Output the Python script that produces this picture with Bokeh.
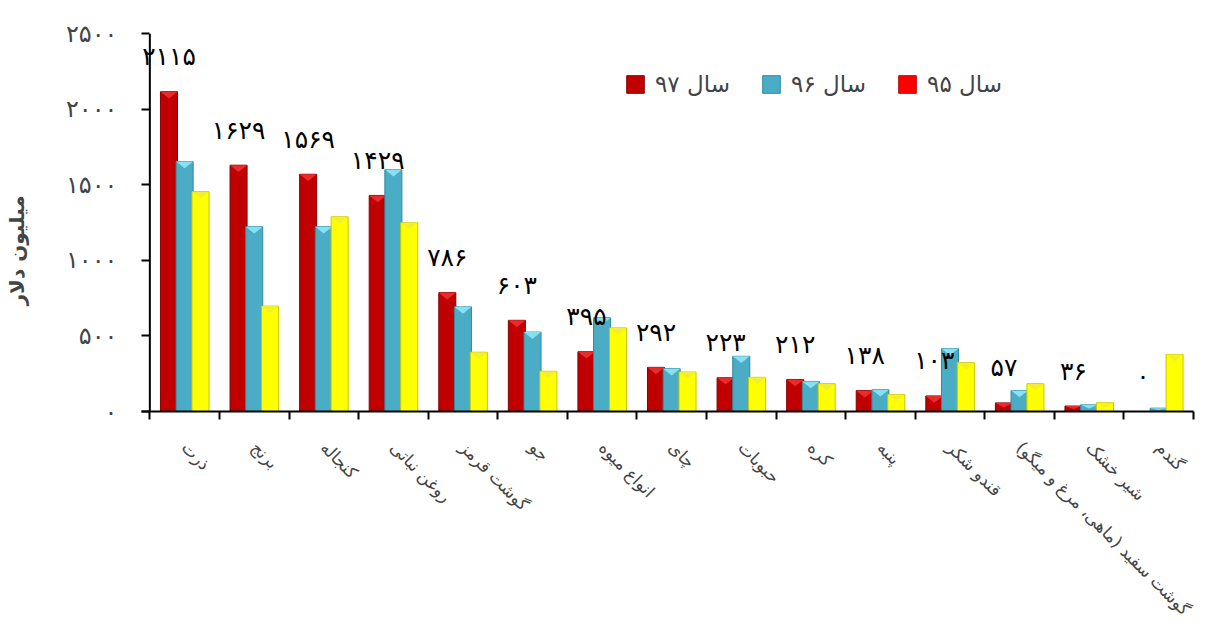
import math
from bokeh.plotting import figure
from bokeh.models import (Range1d, FixedTicker, LinearAxis, Legend, LegendItem, Label, Span)
from bokeh.embed import file_html
from bokeh.resources import INLINE

# ---- data ----
categories = ["ذرت", "برنج", "کنجاله", "روغن نباتی", "گوشت قرمز", "جو", "انواع میوه",
              "چای", "حبوبات", "کره", "پنبه", "قندو شکر",
              "گوشت سفید (ماهی، مرغ و میگو)", "شیر خشک", "گندم"]
series_names = ["سال ۹۷", "سال ۹۶", "سال ۹۵"]
v97 = [2115, 1629, 1569, 1429, 786, 603, 395, 292, 223, 212, 138, 103, 57, 36, 0]
v96 = [1653, 1222, 1222, 1600, 692, 525, 620, 283, 365, 199, 144, 416, 139, 44, 22]
v95 = [1454, 697, 1288, 1248, 392, 266, 553, 261, 226, 184, 113, 323, 184, 58, 378]
y_ticks = [0, 500, 1000, 1500, 2000, 2500]
y_title = "میلیون دلار"

FA = str.maketrans("0123456789", "۰۱۲۳۴۵۶۷۸۹")
def fa(n):
    return str(n).translate(FA)

FONT = "DejaVu Sans"
n = len(categories)
W = 0.245
offs = [-0.225, 0.0, 0.228]
fills = ["#C00000", "#4BACC6", "#FFFF00"]
lines = ["#8A0000", "#2E8AA3", "#C8C800"]
tops = ["#F03030", "#8FE6F7", "#F2EE30"]

p = figure(width=1213, height=630, x_range=Range1d(-0.12, n), y_range=Range1d(0, 2500),
           output_backend="svg", toolbar_location=None,
           x_axis_type=None, y_axis_type=None,
           min_border_left=141, min_border_top=33, min_border_right=20, min_border_bottom=219)
p.grid.visible = False
p.outline_line_color = None
p.background_fill_color = "white"
p.border_fill_color = "white"

renderers = []
for vals, off, fc, lc, tc in zip([v97, v96, v95], offs, fills, lines, tops):
    xs = [i + 0.5 + off for i in range(n)]
    r = p.vbar(x=xs, top=vals, width=W, fill_color=fc, line_color=lc, line_width=1)
    renderers.append(r)
    # bevel triangles at bar tops
    px, py = [], []
    for x, v in zip(xs, vals):
        if v <= 0:
            continue
        d = min(45, v * 0.55)
        px.append([x - W / 2, x + W / 2, x])
        py.append([v, v, v - d])
    p.patches(px, py, fill_color=tc, line_color=None, fill_alpha=0.9)

# helper renderer for the legend's third swatch (red in the original), zero height
r_dummy = p.vbar(x=[0.5], top=[0], width=0.001, fill_color="#FF0000", line_color="#C00000")

# value labels above series 97
for i, v in enumerate(v97):
    p.add_layout(Label(x=i + 0.5 + offs[0], y=v, text=fa(v), y_offset=35,
                       text_align="center", text_baseline="middle",
                       text_font_size="25px", text_font=FONT, text_color="black"))

# vertical axis line at x = 0 (the horizontal axis line sticks out to its left)
p.add_layout(Span(location=0, dimension="height", line_color="black", line_width=2))

# y axis: ticks and labels (its own line hidden; ticks run from frame edge to x = 0)
yaxis = LinearAxis(ticker=FixedTicker(ticks=y_ticks),
                   major_label_overrides={t: fa(t) for t in y_ticks},
                   major_label_text_font=FONT, major_label_text_font_size="24px",
                   major_label_standoff=24, major_tick_out=0, major_tick_in=8,
                   minor_tick_line_color=None, axis_line_color=None,
                   major_tick_line_width=2, major_tick_line_color="black",
                   axis_label=y_title + "\u00a0" * 8,
                   axis_label_text_font=FONT, axis_label_text_font_size="20px",
                   axis_label_text_font_style="bold", axis_label_standoff=34)
p.add_layout(yaxis, "left")

# x axis: boundary ticks
xaxis1 = LinearAxis(ticker=FixedTicker(ticks=list(range(n + 1))),
                    major_label_overrides={i: "" for i in range(n + 1)},
                    major_label_text_font_size="1px", major_label_standoff=0,
                    major_tick_out=8, major_tick_in=0, minor_tick_line_color=None,
                    axis_line_width=2, major_tick_line_width=2, axis_line_color="black")
p.add_layout(xaxis1, "below")

# x axis: category labels at centers
lab_ticks = [i + 0.5 for i in range(n)]
xaxis2 = LinearAxis(ticker=FixedTicker(ticks=lab_ticks),
                    major_label_overrides={t: c for t, c in zip(lab_ticks, categories)},
                    major_label_orientation=-math.pi / 4,
                    major_label_text_font=FONT, major_label_text_font_size="17px",
                    major_label_standoff=25, major_tick_out=0, major_tick_in=0,
                    major_tick_line_color=None, minor_tick_line_color=None,
                    axis_line_color=None)
p.add_layout(xaxis2, "below")

legend = Legend(items=[LegendItem(label=series_names[0], renderers=[renderers[0]]),
                       LegendItem(label=series_names[1], renderers=[renderers[1]]),
                       LegendItem(label=series_names[2], renderers=[r_dummy])],
                orientation="horizontal", location=(483, 314),
                background_fill_alpha=0, border_line_color=None,
                label_text_font=FONT, label_text_font_size="23px",
                glyph_width=22, glyph_height=22, spacing=30, label_standoff=9,
                padding=0, margin=0)
p.add_layout(legend)

open("out.html", "w").write(file_html(p, INLINE))
